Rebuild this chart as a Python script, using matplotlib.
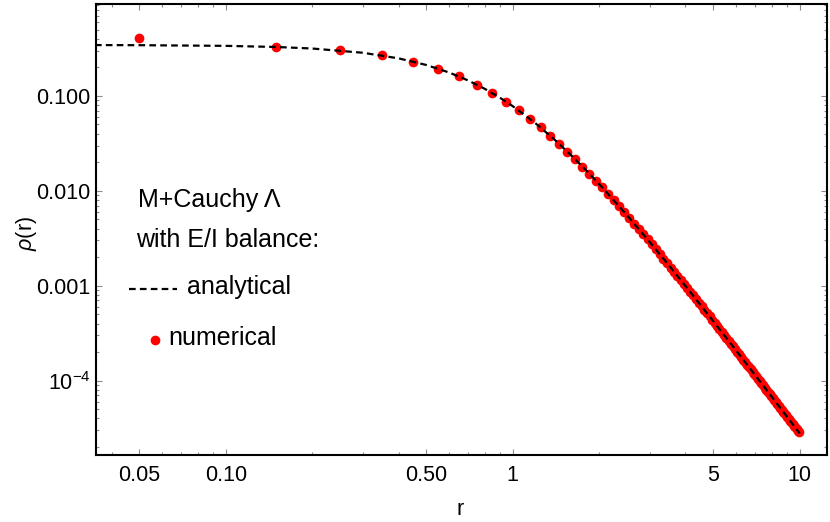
import matplotlib
matplotlib.use("Agg")
import matplotlib.pyplot as plt
from matplotlib.ticker import FixedLocator, LogLocator, NullFormatter

plt.rcParams['font.family'] = ['Liberation Sans', 'DejaVu Sans']
plt.rcParams['mathtext.fontset'] = 'custom'
plt.rcParams['mathtext.rm'] = 'Liberation Sans'
plt.rcParams['mathtext.it'] = 'Liberation Sans:italic'

# numerical points
r_num = [0.05, 0.15, 0.25, 0.35, 0.45, 0.55, 0.65, 0.75, 0.85, 0.95,
         1.05, 1.15, 1.25, 1.35, 1.45, 1.55, 1.65, 1.75, 1.85, 1.95,
         2.05, 2.15, 2.25, 2.35, 2.45, 2.55, 2.65, 2.75, 2.85, 2.95,
         3.05, 3.15, 3.25, 3.35, 3.45, 3.55, 3.65, 3.75, 3.85, 3.95,
         4.05, 4.15, 4.25, 4.35, 4.45, 4.55, 4.65, 4.75, 4.85, 4.95,
         5.05, 5.15, 5.25, 5.35, 5.45, 5.55, 5.65, 5.75, 5.85, 5.95,
         6.05, 6.15, 6.25, 6.35, 6.45, 6.55, 6.65, 6.75, 6.85, 6.95,
         7.05, 7.15, 7.25, 7.35, 7.45, 7.55, 7.65, 7.75, 7.85, 7.95,
         8.05, 8.15, 8.25, 8.35, 8.45, 8.55, 8.65, 8.75, 8.85, 8.95,
         9.05, 9.15, 9.25, 9.35, 9.45, 9.55, 9.65, 9.75, 9.85, 9.95]
rho_num = [0.405, 0.3276, 0.3012, 0.2671, 0.2301, 0.1937, 0.1603, 0.1313, 0.1068, 0.08663,
           0.07026, 0.05709, 0.04654, 0.03810, 0.03135, 0.02592, 0.02156, 0.01802, 0.01515, 0.01281,
           0.01088, 0.009291, 0.007973, 0.006873, 0.005951, 0.005175, 0.004519, 0.003961, 0.003485, 0.003077,
           0.002726, 0.002423, 0.002160, 0.001932, 0.001732, 0.001557, 0.001404, 0.001268, 0.001149, 0.001043,
           9.486e-4, 8.648e-4, 7.899e-4, 7.229e-4, 6.628e-4, 6.087e-4, 5.600e-4, 5.160e-4, 4.763e-4, 4.403e-4,
           4.076e-4, 3.778e-4, 3.507e-4, 3.260e-4, 3.034e-4, 2.827e-4, 2.637e-4, 2.463e-4, 2.303e-4, 2.156e-4,
           2.020e-4, 1.895e-4, 1.779e-4, 1.672e-4, 1.573e-4, 1.481e-4, 1.396e-4, 1.316e-4, 1.243e-4, 1.174e-4,
           1.110e-4, 1.050e-4, 9.943e-5, 9.422e-5, 8.934e-5, 8.477e-5, 8.049e-5, 7.647e-5, 7.271e-5, 6.917e-5,
           6.584e-5, 6.271e-5, 5.976e-5, 5.699e-5, 5.437e-5, 5.190e-5, 4.957e-5, 4.737e-5, 4.529e-5, 4.332e-5,
           4.146e-5, 3.969e-5, 3.802e-5, 3.644e-5, 3.493e-5, 3.351e-5, 3.215e-5, 3.087e-5, 2.964e-5, 2.848e-5]

# analytical curve
r_an = [0.035, 0.05, 0.1, 0.15, 0.2, 0.3, 0.4, 0.5, 0.6, 0.7, 0.8, 0.9, 1.0,
        1.2, 1.4, 1.6, 1.8, 2.0, 2.5, 3.0, 3.5, 4.0, 5.0, 6.0, 7.0, 8.0, 9.0, 10.0]
rho_an = [0.3431, 0.3421, 0.3366, 0.3276, 0.3156, 0.2848, 0.2487, 0.2116, 0.1765, 0.1452,
          0.1185, 0.0962, 0.0780, 0.05152, 0.03454, 0.02362, 0.01651, 0.01180, 0.005547,
          0.002895, 0.001642, 9.943e-4, 4.235e-4, 2.087e-4, 1.141e-4, 6.748e-5, 4.237e-5, 2.792e-5]

x_ticks = [0.05, 0.1, 0.5, 1, 5, 10]
x_labels = ['0.05', '0.10', '0.50', '1', '5', '10']
y_ticks = [1e-4, 1e-3, 1e-2, 1e-1]
y_labels = ['$10^{-4}$', '0.001', '0.010', '0.100']

fig = plt.figure(figsize=(8.3, 5.22), dpi=100)
ax = fig.add_axes([96/830, 1-455/522, 731/830, 451/522])

dash = (0, (3.0, 1.9))
ax.plot(r_num, rho_num, 'o', color='red', ms=7, mew=0, zorder=2)
ax.plot(r_an, rho_an, color='black', lw=1.6, ls=dash, zorder=3)

ax.set_xscale('log')
ax.set_yscale('log')
ax.set_xlim(0.0353, 12.45)
ax.set_ylim(1.65e-5, 0.929)

ax.xaxis.set_major_locator(FixedLocator(x_ticks))
ax.set_xticklabels(x_labels)
ax.xaxis.set_minor_locator(LogLocator(base=10, subs=range(1, 10)))
ax.xaxis.set_minor_formatter(NullFormatter())
ax.yaxis.set_major_locator(FixedLocator(y_ticks))
ax.set_yticklabels(y_labels)
ax.yaxis.set_minor_locator(LogLocator(base=10, subs=range(2, 10)))
ax.yaxis.set_minor_formatter(NullFormatter())

ax.tick_params(which='both', direction='in', top=True, right=True,
               color='#8a8a8a', width=0.8, labelsize=15.5)
ax.tick_params(which='major', length=4.5)
ax.tick_params(which='minor', length=2.3)
ax.tick_params(axis='x', pad=7)
ax.tick_params(axis='y', pad=4)
for s in ax.spines.values():
    s.set_color('black')
    s.set_linewidth(1.5)

ax.set_xlabel('r', fontsize=15.5)
ax.set_ylabel(r'$\it{\rho}$(r)', fontsize=15.5)
ax.xaxis.set_label_coords(0.498, -0.097)
ax.yaxis.set_label_coords(-0.078, 0.49)

# legend made by hand
fig.text(138/830, 1-200/522, 'M+Cauchy \u039b', fontsize=18, va='center', ha='left')
fig.text(136/830, 1-240/522, 'with E/I balance:', fontsize=18, va='center', ha='left')
fig.add_artist(plt.Line2D([129/830, 177/830], [1-289/522, 1-289/522], color='black',
                          lw=1.6, ls=dash, transform=fig.transFigure))
fig.text(187/830, 1-287/522, 'analytical', fontsize=18, va='center', ha='left')
fig.add_artist(plt.Line2D([155/830], [1-339.5/522], marker='o', color='red', ms=7, mew=0,
                          transform=fig.transFigure))
fig.text(168/830, 1-338/522, 'numerical', fontsize=18, va='center', ha='left')

fig.savefig('out.png', dpi=100)
